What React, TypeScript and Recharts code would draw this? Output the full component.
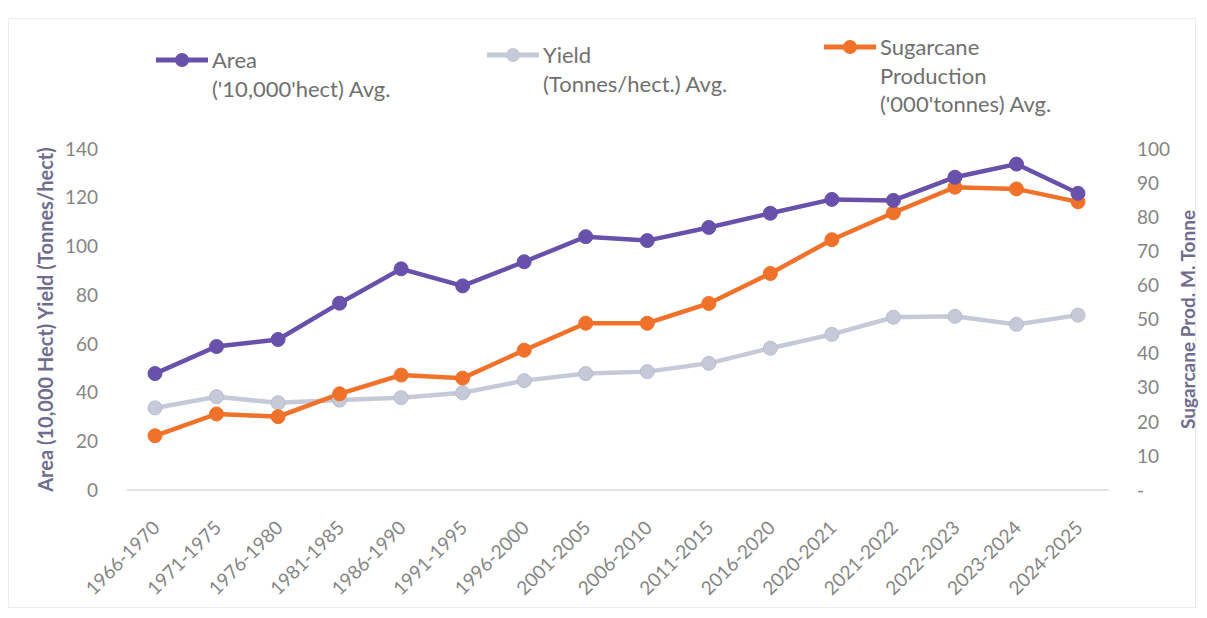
import { Line, LineChart, XAxis, YAxis } from "recharts";

const periods = [
  "1966-1970", "1971-1975", "1976-1980", "1981-1985", "1986-1990", "1991-1995",
  "1996-2000", "2001-2005", "2006-2010", "2011-2015", "2016-2020", "2020-2021",
  "2021-2022", "2022-2023", "2023-2024", "2024-2025",
];
// Area ('10,000 hect) avg., left axis
const areaAvg = [47.8, 58.9, 61.8, 76.7, 90.8, 83.8, 93.7, 104, 102.4, 107.8, 113.6, 119.3, 118.9, 128.4, 133.8, 121.8];
// Yield (tonnes/hect.) avg., left axis
const yieldAvg = [33.7, 38.3, 35.8, 36.9, 37.9, 39.9, 44.9, 47.8, 48.6, 52, 58.2, 63.9, 70.9, 71.3, 68, 71.8];
// Sugarcane production avg., right axis
const productionAvg = [15.9, 22.3, 21.5, 28.2, 33.7, 32.8, 41, 48.9, 48.9, 54.7, 63.5, 73.4, 81.3, 88.8, 88.3, 84.5];

const leftTicks = [0, 20, 40, 60, 80, 100, 120, 140];
const rightTicks = [0, 10, 20, 30, 40, 50, 60, 70, 80, 90, 100];

const PURPLE = "#6851ab";
const GREY = "#c6c9d8";
const ORANGE = "#f0722a";
const FONT = "Lato, 'Open Sans', sans-serif";
const TEXT = "#858585";
const TITLE = "#6f6c8e";

const data = periods.map((period, i) => ({
  period,
  area: areaAvg[i],
  yield: yieldAvg[i],
  production: productionAvg[i],
}));

function PeriodTick({ x, y, payload }: any) {
  return (
    <g transform={`translate(${x + 6},${y + 31})`}>
      <text
        textAnchor="end"
        transform="rotate(-45)"
        fontSize={19}
        fill={TEXT}
        fontFamily={FONT}
      >
        {payload.value}
      </text>
    </g>
  );
}

function LegendItem({
  color,
  lines,
  left,
  top,
}: {
  color: string;
  lines: string[];
  left: number;
  top: number;
}) {
  return (
    <div style={{ position: "absolute", left, top, display: "flex" }}>
      <svg width={56} height={20} style={{ marginTop: 4 }}>
        <line x1={2} y1={10} x2={54} y2={10} stroke={color} strokeWidth={5} />
        <circle cx={28} cy={10} r={7} fill={color} />
      </svg>
      <div style={{ lineHeight: "28.5px", fontSize: 22, color: "#707070", fontFamily: FONT, marginLeft: 2 }}>
        {lines.map((l) => (
          <div key={l}>{l}</div>
        ))}
      </div>
    </div>
  );
}

export default function App() {
  return (
    <div style={{ position: "absolute", left: 0, top: 0, width: 1207, height: 618, background: "#fff" }}>
      <div
        style={{
          position: "absolute",
          left: 8,
          top: 18,
          width: 1186,
          height: 588,
          border: "1px solid #ececec",
        }}
      />
      <LegendItem color={PURPLE} lines={["Area", "('10,000'hect) Avg."]} left={154} top={46} />
      <LegendItem color={GREY} lines={["Yield", "(Tonnes/hect.) Avg."]} left={485} top={41} />
      <LegendItem
        color={ORANGE}
        lines={["Sugarcane", "Production", "('000'tonnes) Avg."]}
        left={822}
        top={33}
      />
      <div style={{ position: "absolute", left: 0, top: 0 }}>
        <LineChart
          width={1207}
          height={618}
          data={data}
          margin={{ top: 149, right: 20, bottom: 0, left: 20 }}
        >
          <XAxis
            dataKey="period"
            height={128}
            padding={{ left: 28, right: 31 }}
            tick={<PeriodTick />}
            tickLine={false}
            axisLine={{ stroke: "#d9d9d9", strokeWidth: 1.5 }}
            interval={0}
          />
          <YAxis
            yAxisId="left"
            width={107}
            domain={[0, 140]}
            ticks={leftTicks}
            axisLine={false}
            tickLine={false}
            tickMargin={23}
            tick={{ fontSize: 19, fill: TEXT, fontFamily: FONT }}
            label={{
              value: "Area (10,000 Hect) Yield (Tonnes/hect)",
              angle: -90,
              position: "center",
              dx: -28,
              style: { fontSize: 20, fontWeight: 700, fill: TITLE, fontFamily: FONT },
            }}
          />
          <YAxis
            yAxisId="right"
            orientation="right"
            width={78}
            domain={[0, 100]}
            ticks={rightTicks}
            axisLine={false}
            tickLine={false}
            tickMargin={22}
            tickFormatter={(v: number) => (v === 0 ? "-" : String(v))}
            tick={{ fontSize: 19, fill: TEXT, fontFamily: FONT }}
            label={{
              value: "Sugarcane Prod. M. Tonne",
              angle: -90,
              position: "center",
              dx: 40,
              style: { fontSize: 19, fontWeight: 700, fill: TITLE, fontFamily: FONT },
            }}
          />
          <Line
            yAxisId="left"
            dataKey="yield"
            stroke={GREY}
            strokeWidth={4.5}
            dot={{ r: 7, fill: GREY, stroke: "#b9bccd", strokeWidth: 1 }}
            activeDot={false}
            isAnimationActive={false}
          />
          <Line
            yAxisId="right"
            dataKey="production"
            stroke={ORANGE}
            strokeWidth={4.5}
            dot={{ r: 7, fill: ORANGE, stroke: ORANGE, strokeWidth: 1 }}
            activeDot={false}
            isAnimationActive={false}
          />
          <Line
            yAxisId="left"
            dataKey="area"
            stroke={PURPLE}
            strokeWidth={4.5}
            dot={{ r: 7, fill: PURPLE, stroke: PURPLE, strokeWidth: 1 }}
            activeDot={false}
            isAnimationActive={false}
          />
        </LineChart>
      </div>
    </div>
  );
}
